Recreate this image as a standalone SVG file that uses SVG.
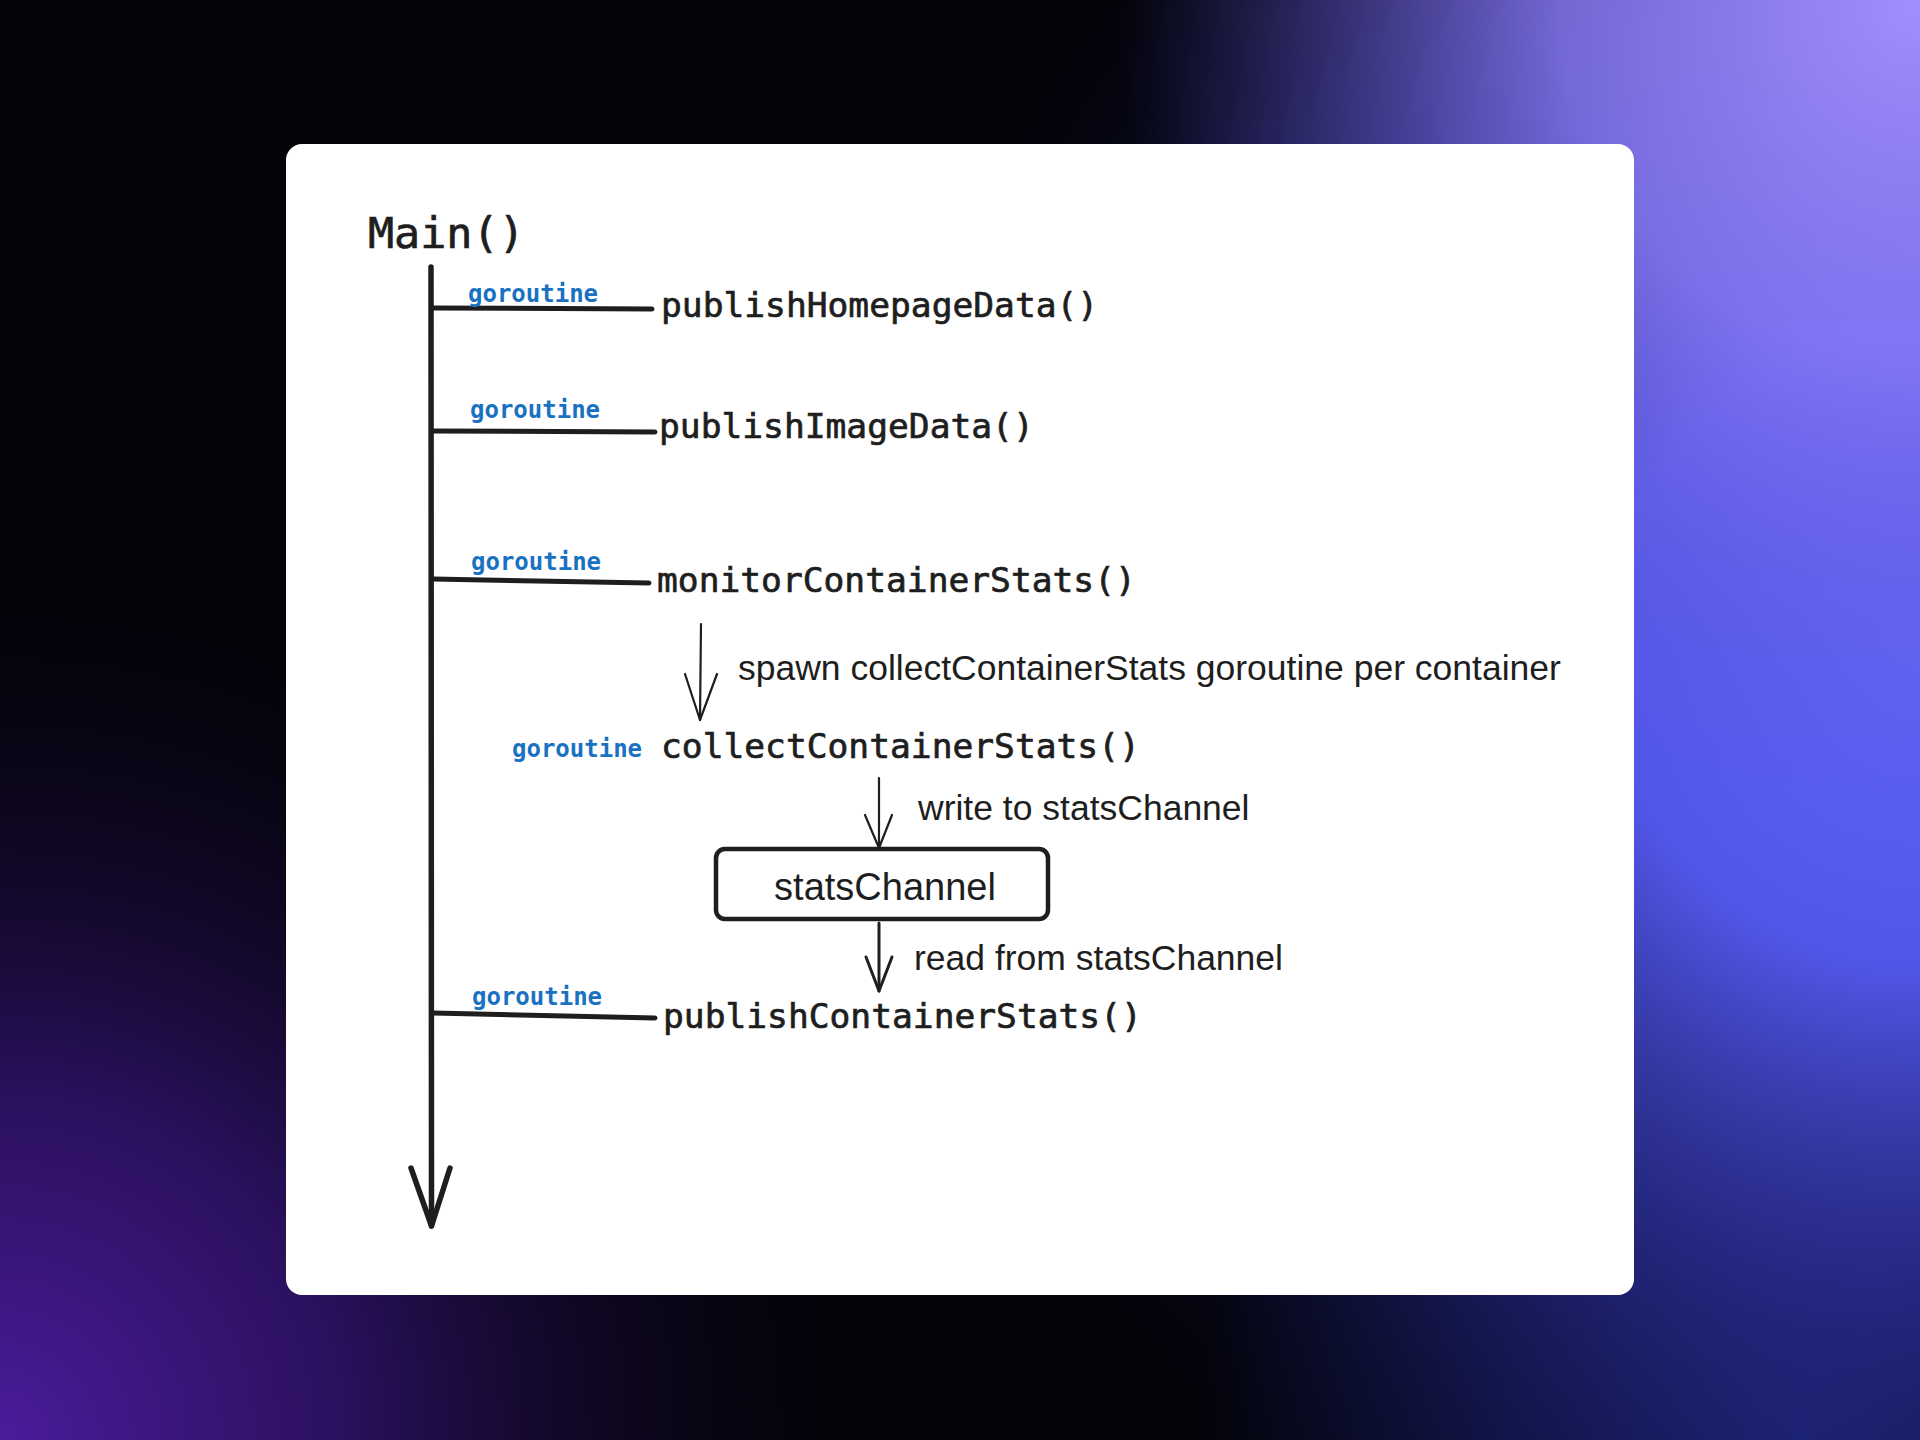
<svg xmlns="http://www.w3.org/2000/svg" width="1920" height="1440" viewBox="0 0 1920 1440">
  <defs>
    <radialGradient id="gRight" gradientUnits="userSpaceOnUse" cx="1920" cy="650" r="1050">
      <stop offset="0" stop-color="#5f63f8"/>
      <stop offset="0.3" stop-color="#5256e8"/>
      <stop offset="0.6" stop-color="#2d2f96" stop-opacity="0.7"/>
      <stop offset="1" stop-color="#0a0a30" stop-opacity="0"/>
    </radialGradient>
    <radialGradient id="gTopRight" gradientUnits="userSpaceOnUse" cx="1920" cy="0" r="800">
      <stop offset="0" stop-color="#a28eff"/>
      <stop offset="0.45" stop-color="#8a7cf6" stop-opacity="0.8"/>
      <stop offset="1" stop-color="#5a50d0" stop-opacity="0"/>
    </radialGradient>
    <radialGradient id="gBottomLeft" gradientUnits="userSpaceOnUse" cx="0" cy="1440" r="850">
      <stop offset="0" stop-color="#4a1c9c"/>
      <stop offset="0.4" stop-color="#32136e" stop-opacity="0.85"/>
      <stop offset="1" stop-color="#100520" stop-opacity="0"/>
    </radialGradient>
    <radialGradient id="gBottomRight" gradientUnits="userSpaceOnUse" cx="1800" cy="1440" r="600">
      <stop offset="0" stop-color="#1a2378"/>
      <stop offset="1" stop-color="#1a2378" stop-opacity="0"/>
    </radialGradient>
    <style>
      .mono { font-family: "DejaVu Sans Mono", "Liberation Mono", monospace; fill: #1e1e1e; stroke: #1e1e1e; stroke-width: 0.7; }
      .fn { font-size: 34.6px; }
      .go { font-family: "DejaVu Sans Mono", "Liberation Mono", monospace; font-size: 24px; fill: #1971c2; font-weight: 600; }
      .lbl { font-family: "Liberation Sans", Arial, sans-serif; font-size: 35.5px; fill: #1e1e1e; }
      .hand { font-family: "Liberation Sans", Arial, sans-serif; font-size: 38px; fill: #1e1e1e; }
      .thick { fill: none; stroke: #1e1e1e; stroke-width: 5.5; stroke-linecap: round; stroke-linejoin: round; }
      .branch { fill: none; stroke: #1e1e1e; stroke-width: 5; stroke-linecap: round; }
      .thin { fill: none; stroke: #1e1e1e; stroke-width: 2.2; stroke-linecap: round; stroke-linejoin: round; }
      .mid { fill: none; stroke: #1e1e1e; stroke-width: 3; stroke-linecap: round; stroke-linejoin: round; }
    </style>
  </defs>

  <!-- background -->
  <rect x="0" y="0" width="1920" height="1440" fill="#030309"/>
  <rect x="0" y="0" width="1920" height="1440" fill="url(#gBottomRight)"/>
  <rect x="0" y="0" width="1920" height="1440" fill="url(#gRight)"/>
  <rect x="0" y="0" width="1920" height="1440" fill="url(#gTopRight)"/>
  <rect x="0" y="0" width="1920" height="1440" fill="url(#gBottomLeft)"/>

  <!-- card -->
  <rect x="286" y="144" width="1348" height="1151" rx="16" ry="16" fill="#ffffff"/>

  <!-- nodes -->
  <g id="main">
    <text class="mono" x="368" y="248" font-size="43.4">Main()</text>
  </g>
  <g id="publishHomepageData">
    <text class="mono fn" x="661" y="317">publishHomepageData()</text>
  </g>
  <g id="publishImageData">
    <text class="mono fn" x="659" y="438">publishImageData()</text>
  </g>
  <g id="monitorContainerStats">
    <text class="mono fn" x="657" y="592">monitorContainerStats()</text>
  </g>
  <g id="collectContainerStats">
    <text class="go" x="512" y="757">goroutine</text>
    <text class="mono fn" x="661" y="758">collectContainerStats()</text>
  </g>
  <g id="statsChannel">
    <rect x="716" y="849" width="332" height="70" rx="9" ry="9" fill="#ffffff" stroke="#1e1e1e" stroke-width="4.5"/>
    <text class="hand" x="885" y="900" text-anchor="middle">statsChannel</text>
  </g>
  <g id="publishContainerStats">
    <text class="mono fn" x="663" y="1028">publishContainerStats()</text>
  </g>

  <!-- connectors -->
  <g id="connectors">
    <!-- main timeline -->
    <path class="thick" d="M431,267 L431.5,1226"/>
    <path class="thick" d="M411,1168 L431.5,1226 L450,1168"/>

    <!-- goroutine branches -->
    <path class="branch" d="M433,308 L652,309"/>
    <text class="go" x="468" y="302">goroutine</text>

    <path class="branch" d="M433,431 L655,432"/>
    <text class="go" x="470" y="418">goroutine</text>

    <path class="branch" d="M433,579 L649,583"/>
    <text class="go" x="471" y="570">goroutine</text>

    <path class="branch" d="M433,1013 L655,1018"/>
    <text class="go" x="472" y="1005">goroutine</text>

    <!-- spawn arrow -->
    <path class="thin" d="M701,624 L700,720"/>
    <path class="thin" d="M685,674 L700,720 L717,674"/>
    <text class="lbl" x="738" y="680">spawn collectContainerStats goroutine per container</text>

    <!-- write arrow -->
    <path class="thin" d="M879,778 L879,848"/>
    <path class="thin" d="M865,815 L879,848 L892,815"/>
    <text class="lbl" x="918" y="820">write to statsChannel</text>

    <!-- read arrow -->
    <path class="mid" d="M879,923 L879,991"/>
    <path class="mid" d="M866,957 L879,991 L892,957"/>
    <text class="lbl" x="914" y="970">read from statsChannel</text>
  </g>
</svg>
